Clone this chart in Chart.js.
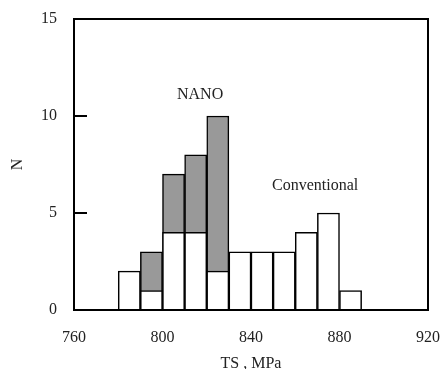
<!DOCTYPE html>
<html>
<head>
<meta charset="utf-8">
<script src="https://cdn.jsdelivr.net/npm/chart.js@4"></script>
<style>
  body { margin: 0; background: #fff; }
  #wrap { width: 444px; height: 369px; }
</style>
</head>
<body>
<div id="wrap"><canvas id="hist"></canvas></div>
<script>
// bin centres, MPa (bins are 10 MPa wide)
const convBins = [785, 795, 805, 815, 825, 835, 845, 855, 865, 875, 885];
const convCounts = [2, 1, 4, 4, 2, 3, 3, 3, 4, 5, 1];
const nanoBins = [795, 805, 815, 825];
const nanoCounts = [3, 7, 8, 10];
const xTicks = [760, 800, 840, 880, 920];
const yTicks = [0, 5, 10, 15];

const serif = '"Liberation Serif", "DejaVu Serif", serif';
const textColor = '#222';

const labels = [
    { text: 'NANO', x: 817, y: 11.1 },
    { text: 'Conventional', x: 869, y: 6.4 },
];

// box frame, inward y tick marks and the two text labels
const framePlugin = {
    id: 'frame',
    afterDatasetsDraw(chart) {
        const { ctx, chartArea: a, scales } = chart;
        ctx.save();
        ctx.strokeStyle = '#000';
        ctx.lineWidth = 2;
        ctx.strokeRect(a.left, a.top, a.right - a.left, a.bottom - a.top);
        ctx.beginPath();
        for (const v of yTicks) {
            if (v === 0 || v === 15) continue;
            const y = Math.round(scales.y.getPixelForValue(v));
            ctx.moveTo(a.left, y);
            ctx.lineTo(a.left + 13, y);
        }
        ctx.stroke();

        ctx.fillStyle = textColor;
        ctx.font = '16px ' + serif;
        ctx.textAlign = 'center';
        ctx.textBaseline = 'middle';
        for (const l of labels) {
            ctx.fillText(l.text, scales.x.getPixelForValue(l.x), scales.y.getPixelForValue(l.y));
        }
        ctx.restore();
    }
};

new Chart(document.getElementById('hist'), {
    type: 'bar',
    data: {
        datasets: [
            {
                label: 'Conventional',
                data: convBins.map((x, i) => ({ x: x, y: convCounts[i] })),
                backgroundColor: '#ffffff',
                borderColor: '#000',
                borderWidth: 1.5,
                grouped: false,
                barPercentage: 1,
                categoryPercentage: 1,
            },
            {
                label: 'NANO',
                data: nanoBins.map((x, i) => ({ x: x, y: nanoCounts[i] })),
                backgroundColor: '#999999',
                borderColor: '#000',
                borderWidth: 1.5,
                grouped: false,
                barPercentage: 1,
                categoryPercentage: 1,
            },
        ],
    },
    options: {
        responsive: true,
        maintainAspectRatio: false,
        animation: false,
        layout: { padding: { top: 19, right: 16, left: 0, bottom: 0 } },
        plugins: {
            legend: { display: false },
            tooltip: { enabled: false },
        },
        scales: {
            x: {
                type: 'linear',
                offset: false,
                min: 760,
                max: 920,
                afterBuildTicks: (scale) => { scale.ticks = xTicks.map(v => ({ value: v })); },
                afterFit: (scale) => {
                    scale.height = 59;
                    scale.paddingLeft = 0;
                    scale.paddingRight = 0;
                },
                grid: { display: false, drawTicks: false },
                border: { display: false },
                ticks: {
                    padding: 18,
                    color: textColor,
                    font: { family: serif, size: 16 },
                    maxRotation: 0,
                },
                title: {
                    display: true,
                    text: 'TS , MPa',
                    color: textColor,
                    font: { family: serif, size: 16, lineHeight: 1 },
                    padding: { top: 0, bottom: -3 },
                },
            },
            y: {
                min: 0,
                max: 15,
                afterBuildTicks: (scale) => { scale.ticks = yTicks.map(v => ({ value: v })); },
                afterFit: (scale) => {
                    scale.width = 74;
                    scale.paddingTop = 0;
                    scale.paddingBottom = 0;
                },
                grid: { display: false, drawTicks: false },
                border: { display: false },
                ticks: {
                    padding: 17,
                    color: textColor,
                    font: { family: serif, size: 16 },
                },
                title: {
                    display: true,
                    text: 'N',
                    color: textColor,
                    font: { family: serif, size: 16, lineHeight: 1 },
                    padding: { top: 10, bottom: 0 },
                },
            },
        },
    },
    plugins: [framePlugin],
});
</script>
</body>
</html>
